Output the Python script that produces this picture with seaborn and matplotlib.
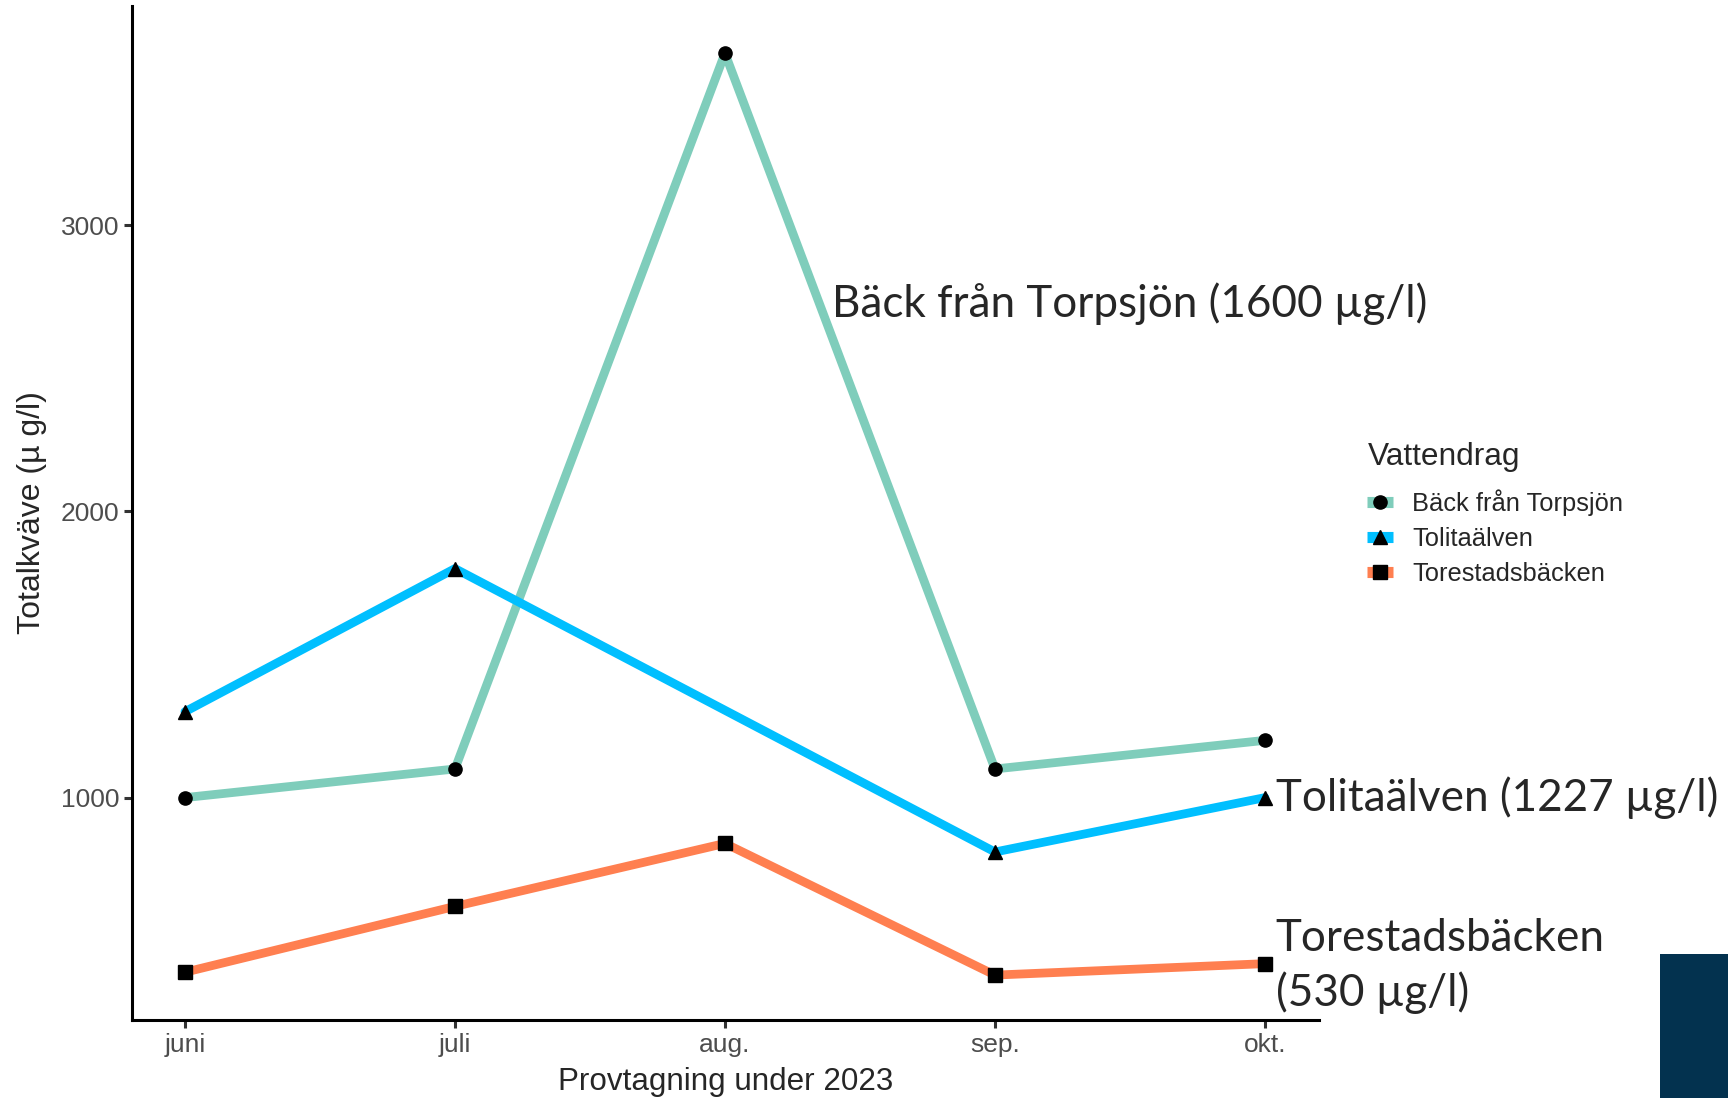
import numpy as np
import pandas as pd
import seaborn as sns
import matplotlib.pyplot as plt
from matplotlib.patches import Rectangle

# Values
months = ["juni", "juli", "aug.", "sep.", "okt."]
back_torpsjon = [1000, 1100, 3600, 1100, 1200]
tolitaalven = [1300, 1800, np.nan, 810, 1000]   # no sample in August
torestadsbacken = [390, 620, 840, 380, 420]

series_names = ["Bäck från Torpsjön", "Tolitaälven", "Torestadsbäcken"]
series_colors = ["#7FCDBB", "#00BFFF", "#FF7F50"]
series_markers = ["o", "^", "s"]
end_labels = ["Bäck från Torpsjön (1600 µg/l)", "Tolitaälven (1227 µg/l)",
              "Torestadsbäcken\n(530 µg/l)"]

rows = []
for name, vals in zip(series_names, [back_torpsjon, tolitaalven, torestadsbacken]):
    for i, v in enumerate(vals):
        if not np.isnan(v):
            rows.append({"month_idx": i, "value": v, "Vattendrag": name})
df = pd.DataFrame(rows)

sns.set_theme(style="white")
plt.rcParams['font.family'] = ['Liberation Sans', 'DejaVu Sans']

fig = plt.figure(figsize=(17.28, 10.98), dpi=100)
ax = fig.add_axes([0.0764, 0.0710, 0.6869, 0.9235])

palette = dict(zip(series_names, series_colors))
sns.lineplot(data=df, x="month_idx", y="value", hue="Vattendrag", palette=palette,
             linewidth=6.3, ax=ax, legend=False, sort=True)

# black markers on top of the lines
for name, marker in zip(series_names, series_markers):
    sub = df[df["Vattendrag"] == name]
    ax.plot(sub["month_idx"], sub["value"], linestyle="none", marker=marker,
            color="black", markersize=9.5, zorder=5, clip_on=False)

ax.set_xlim(-0.196, 4.2)
ax.set_ylim(223, 3765)
ax.set_xticks(range(len(months)))
ax.set_xticklabels(months)
ax.set_yticks([1000, 2000, 3000])
ax.tick_params(axis="both", length=5.8, width=2.2, color="#333333",
               labelcolor="#4D4D4D", labelsize=19, pad=3.5, bottom=True, left=True)
ax.set_xlabel("Provtagning under 2023", fontsize=22.6, labelpad=7)
ax.set_ylabel("Totalkväve (µ g/l)", fontsize=23, labelpad=10)

for side in ["top", "right"]:
    ax.spines[side].set_visible(False)
for side in ["left", "bottom"]:
    ax.spines[side].set_color("black")
    ax.spines[side].set_linewidth(2.2)

# legend
handles = [plt.Line2D([], [], color=c, linewidth=8, marker=m, markersize=9.5,
                      markerfacecolor="black", markeredgecolor="black",
                      solid_capstyle="butt")
           for c, m in zip(series_colors, series_markers)]
leg = fig.legend(handles, series_names, title="Vattendrag", loc="upper left",
                 bbox_to_anchor=(0.778, 0.618), frameon=False, fontsize=18.4,
                 title_fontsize=22.8, handlelength=1.0, labelspacing=0.43,
                 handletextpad=0.75)
leg._legend_box.align = "left"
leg._legend_box.sep = 12

# end labels
label_font = ['Lato', 'DejaVu Sans']
ax.text(2.396, 2727, end_labels[0], fontsize=31.7, va="center", ha="left",
        family=label_font)
ax.text(4.04, 1000, end_labels[1], fontsize=31.7, va="center", ha="left",
        family=label_font, clip_on=False)
ax.text(4.04, 412, end_labels[2], fontsize=31.7, va="center", ha="left",
        family=label_font, clip_on=False, linespacing=1.38)

# dark block in the lower right corner
fig.patches.append(Rectangle((0.9606, 0.0), 0.0394, 0.1311, transform=fig.transFigure,
                             facecolor="#03324F", edgecolor="none"))

fig.savefig("out.png", dpi=100)
